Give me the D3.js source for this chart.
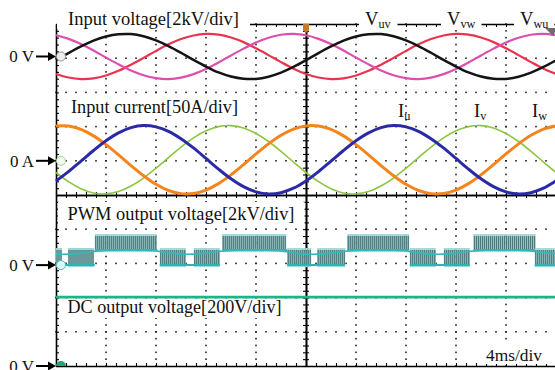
<!DOCTYPE html>
<html>
<head>
<meta charset="utf-8">
<script src="https://cdn.jsdelivr.net/npm/d3@7"></script>
<style>
  body { margin: 0; background: #fff; }
  svg { display: block; font-family: "Liberation Serif", "Times New Roman", serif; }
</style>
</head>
<body>
<svg id="chart" width="555" height="370"></svg>
<script>
// sample instants, 1 ms apart (4 ms/div, 10 divisions)
const tMs = d3.range(0, 41);

// input line voltages [kV]
const vUV = [-0.22, 0.20, 0.59, 0.93, 1.17, 1.30, 1.31, 1.18, 0.94, 0.61, 0.22, -0.20, -0.59, -0.93, -1.17, -1.30, -1.31, -1.18, -0.94, -0.61,
             -0.22, 0.20, 0.59, 0.93, 1.17, 1.30, 1.31, 1.18, 0.94, 0.61, 0.22, -0.20, -0.59, -0.93, -1.17, -1.30, -1.31, -1.18, -0.94, -0.61, -0.22];
const vVW = [-1.02, -1.23, -1.32, -1.28, -1.11, -0.84, -0.48, -0.08, 0.33, 0.71, 1.02, 1.23, 1.32, 1.28, 1.11, 0.84, 0.48, 0.08, -0.33, -0.71,
             -1.02, -1.23, -1.32, -1.28, -1.11, -0.84, -0.48, -0.08, 0.33, 0.71, 1.02, 1.23, 1.32, 1.28, 1.11, 0.84, 0.48, 0.08, -0.33, -0.71, -1.02];
const vWU = [1.24, 1.03, 0.73, 0.35, -0.06, -0.46, -0.82, -1.10, -1.27, -1.32, -1.24, -1.03, -0.73, -0.35, 0.06, 0.46, 0.82, 1.10, 1.27, 1.32,
             1.24, 1.03, 0.73, 0.35, -0.06, -0.46, -0.82, -1.10, -1.27, -1.32, -1.24, -1.03, -0.73, -0.35, 0.06, 0.46, 0.82, 1.10, 1.27, 1.32, 1.24];

// input currents [A]
const iU = [-29.4, -15.8, -0.4, 15.1, 29.3, 40.8, 48.5, 51.5, 49.6, 43.1, 32.4, 18.8, 3.4, -12.1, -26.3, -37.8, -45.5, -48.5, -46.6, -40.1,
            -29.4, -15.8, -0.4, 15.1, 29.3, 40.8, 48.5, 51.5, 49.6, 43.1, 32.4, 18.8, 3.4, -12.1, -26.3, -37.8, -45.5, -48.5, -46.6, -40.1, -29.4];
const iV = [-17.1, -30.5, -40.8, -47.0, -48.4, -45.0, -36.9, -25.2, -10.8, 4.8, 20.1, 33.5, 43.8, 50.0, 51.4, 48.0, 39.9, 28.2, 13.8, -1.8,
            -17.1, -30.5, -40.8, -47.0, -48.4, -45.0, -36.9, -25.2, -10.8, 4.8, 20.1, 33.5, 43.8, 50.0, 51.4, 48.0, 39.9, 28.2, 13.8, -1.8, -17.1];
const iW = [51.0, 50.8, 45.8, 36.4, 23.6, 8.7, -7.0, -21.8, -34.4, -43.4, -48.0, -47.8, -42.8, -33.4, -20.6, -5.7, 10.0, 24.8, 37.4, 46.4,
            51.0, 50.8, 45.8, 36.4, 23.6, 8.7, -7.0, -21.8, -34.4, -43.4, -48.0, -47.8, -42.8, -33.4, -20.6, -5.7, 10.0, 24.8, 37.4, 46.4, 51.0];

// PWM output voltage [kV]: switching segments and the averaged trace
const pwmStart = [0, 3.1, 8.3, 13.3, 18.5, 23.3, 28.3, 33.4, 38.3];
const pwmEnd   = [3.1, 8.1, 13.1, 18.5, 23.1, 28.2, 33.1, 38.3, 40];
const pwmLow   = [0, 0.88, 0, 0.88, 0, 0.88, 0, 0.88, 0];
const pwmHigh  = [0.88, 1.70, 0.88, 1.70, 0.88, 1.70, 0.88, 1.70, 0.88];
const pwmNotch = [0.7, 10.7, 20.7, 30.7];
const pwmMean  = [0.64, 0.64, 0.70, 0.80, 0.86, 0.88, 0.88, 0.87, 0.83, 0.73,
                  0.64, 0.64, 0.70, 0.80, 0.86, 0.88, 0.88, 0.87, 0.83, 0.73,
                  0.64, 0.64, 0.70, 0.80, 0.86, 0.88, 0.88, 0.87, 0.83, 0.73,
                  0.64, 0.64, 0.70, 0.80, 0.86, 0.88, 0.88, 0.87, 0.83, 0.73, 0.64];

// DC output voltage [V]
const vDC = [403, 403, 403, 403, 403, 403, 403, 403, 403, 403, 403, 403, 403, 403, 403, 403, 403, 403, 403, 403,
             403, 403, 403, 403, 403, 403, 403, 403, 403, 403, 403, 403, 403, 403, 403, 403, 403, 403, 403, 403, 403];

const svg = d3.select('#chart');
const x = d3.scaleLinear().domain([0, 40]).range([56, 556]);
const y = d3.scaleLinear().domain([-5, 5]).range([366, 24]);

// channel position (div) and scale (units/div)
const chV = { offset: 4.05, perDiv: 2 };
const chI = { offset: 1.0, perDiv: 50 };
const chP = { offset: -2.05, perDiv: 2 };
const chD = { offset: -5, perDiv: 200 };
const yc = (ch, v) => y(ch.offset + v / ch.perDiv);

// graticule dots
const grid = svg.append('g').attr('fill', '#222');
[-4, -3, -2, -1, 1, 2, 3, 4].forEach(d => {
  grid.selectAll(null).data(d3.range(0, 40.01, 0.8)).enter().append('rect')
    .attr('x', t => x(t) - 0.8).attr('y', y(d) - 0.8).attr('width', 1.6).attr('height', 1.6);
});
[4, 8, 12, 16, 24, 28, 32, 36].forEach(t => {
  grid.selectAll(null).data(d3.range(-5, 5.01, 0.2)).enter().append('rect')
    .attr('x', x(t) - 0.8).attr('y', d => y(d) - 0.8).attr('width', 1.6).attr('height', 1.6);
});

// borders and centre axes with minor ticks
const minorT = d3.range(0, 40.01, 0.8);
const minorD = d3.range(-5, 5.01, 0.2);
function axis(gen, tx, ty) {
  const g = svg.append('g').attr('transform', `translate(${tx},${ty})`)
    .call(gen.tickSizeInner(3).tickSizeOuter(0).tickFormat(''));
  g.select('.domain').attr('stroke', '#000').attr('stroke-width', 1.6);
  g.selectAll('.tick line').attr('stroke', '#000').attr('stroke-width', 1.1);
}
axis(d3.axisRight(y).tickValues(minorD), 56, 0);
axis(d3.axisRight(y).tickValues(minorD), 306, 0);
axis(d3.axisLeft(y).tickValues(minorD), 306, 0);
axis(d3.axisTop(x).tickValues(minorT), 0, 195);
axis(d3.axisBottom(x).tickValues(minorT), 0, 195);
axis(d3.axisBottom(x).tickValues(minorT), 0, 24);
axis(d3.axisTop(x).tickValues(minorT), 0, 366);

// text labels on white boxes
function label(parts, tx, ty, size, box, len) {
  const g = svg.append('g');
  const rect = g.append('rect').attr('fill', '#fff');
  const txt = g.append('text').attr('x', tx).attr('y', ty).attr('font-size', size).attr('fill', '#111');
  if (len) txt.attr('textLength', len).attr('lengthAdjust', 'spacingAndGlyphs');
  parts.forEach(p => {
    const s = txt.append('tspan').text(p.t);
    if (p.sub) s.attr('font-size', size * 0.66).attr('dy', 3);
  });
  if (box) {
    const b = txt.node().getBBox();
    const x0 = box.x0 !== undefined ? box.x0 : b.x - (box.px || 4);
    const x1 = box.x1 !== undefined ? box.x1 : b.x + b.width + (box.px || 4);
    rect.attr('x', x0).attr('y', box.y0).attr('width', x1 - x0).attr('height', box.y1 - box.y0);
  }
}
label([{ t: 'Input voltage[2kV/div]' }], 68, 25, 18.5, { x0: 57, x1: 250, y0: 2, y1: 29 }, 171);
label([{ t: 'Input current[50A/div]' }], 71, 113, 18.5, { px: 4, y0: 97, y1: 119 }, 167);
label([{ t: 'PWM output voltage[2kV/div]' }], 67.5, 220, 18.5, { x0: 58, px: 10, y0: 202, y1: 226 }, 227);
label([{ t: 'DC output voltage[200V/div]' }], 67.5, 313, 18.5, { px: 6, y0: 299, y1: 318 }, 214);
label([{ t: '4ms/div' }], 486, 361, 17.5, { px: 6, y0: 344, y1: 364 }, 56);
label([{ t: 'V' }, { t: 'uv', sub: true }], 365, 25, 18.5, { px: 6, y0: 2, y1: 29 });
label([{ t: 'V' }, { t: 'vw', sub: true }], 447, 25, 18.5, { px: 6, y0: 2, y1: 29 });
label([{ t: 'V' }, { t: 'wu', sub: true }], 520, 25, 18.5, { px: 6, y0: 2, y1: 29 });
label([{ t: 'I' }, { t: 'u', sub: true }], 398, 117, 18.5, null);
label([{ t: 'I' }, { t: 'v', sub: true }], 474, 117, 18.5, null);
label([{ t: 'I' }, { t: 'w', sub: true }], 532, 117, 18.5, null);

// zero level arrows
[[chV, '0 V'], [chI, '0 A'], [chP, '0 V'], [chD, '0 V']].forEach(([ch, t]) => {
  const yy = yc(ch, 0);
  svg.append('text').attr('x', 34).attr('y', yy + 6).attr('text-anchor', 'end')
    .attr('font-size', 17).attr('fill', '#111').text(t);
  svg.append('line').attr('x1', 36).attr('x2', 50).attr('y1', yy).attr('y2', yy)
    .attr('stroke', '#000').attr('stroke-width', 2);
  svg.append('path').attr('d', `M48,${yy - 4.5}L56,${yy}L48,${yy + 4.5}Z`).attr('fill', '#000');
});

// PWM switching bands
const pwm = svg.append('g');
pwmStart.forEach((s, i) => {
  const e = pwmEnd[i], lo = pwmLow[i], hi = pwmHigh[i];
  const pulses = d3.range(s + 0.08, e, 0.16).filter(t => !pwmNotch.some(n => Math.abs(n - t) < 0.25));
  pwm.selectAll(null).data(pulses).enter().append('rect')
    .attr('x', t => x(t - 0.08)).attr('width', x(0.16) - x(0))
    .attr('y', yc(chP, hi + 0.12)).attr('height', yc(chP, lo - 0.12) - yc(chP, hi + 0.12))
    .attr('fill', '#9bd6d6');
  pwm.selectAll(null).data(pulses).enter().append('line')
    .attr('x1', t => x(t)).attr('x2', t => x(t))
    .attr('y1', yc(chP, hi)).attr('y2', yc(chP, lo))
    .attr('stroke', '#4e7778').attr('stroke-width', 1.3);
  pwm.append('line').attr('x1', x(s)).attr('x2', x(e)).attr('y1', yc(chP, lo)).attr('y2', yc(chP, lo))
    .attr('stroke', '#2cb4b4').attr('stroke-width', 2);
});

// traces
const line = ch => d3.line().x((d, i) => x(tMs[i])).y(d => yc(ch, d)).curve(d3.curveCatmullRom);
const traces = [
  [pwmMean, chP, '#33b9b9', 1.6],
  [vDC, chD, '#1db488', 2.6],
  [vVW, chV, '#e8344f', 2.2],
  [vWU, chV, '#dc4fae', 2.2],
  [vUV, chV, '#141414', 2.5],
  [iV, chI, '#8cc63f', 1.6],
  [iW, chI, '#f3851c', 3],
  [iU, chI, '#2b2aa6', 3]
];
traces.forEach(([data, ch, color, w]) => {
  svg.append('path').datum(data).attr('d', line(ch))
    .attr('fill', 'none').attr('stroke', color).attr('stroke-width', w).attr('stroke-linejoin', 'round');
});

// channel markers
svg.append('circle').attr('cx', 61).attr('cy', yc(chV, 0)).attr('r', 4.5).attr('fill', '#eee').attr('stroke', '#999');
svg.append('circle').attr('cx', 61).attr('cy', yc(chI, 0)).attr('r', 4.5).attr('fill', '#f3fbef').attr('stroke', '#a5d49a');
svg.append('circle').attr('cx', 61).attr('cy', yc(chP, 0)).attr('r', 4.5).attr('fill', '#e2f7f7').attr('stroke', '#53c0c0');
svg.append('path').attr('d', `M56,366a5,5 0 0 1 10,0Z`).attr('fill', '#1aa877');

// trigger markers
svg.append('path').attr('d', 'M303,24L309,24L309,30L306,33L303,30Z').attr('fill', '#c47a28');
svg.append('path').attr('d', 'M545,28L557,28L553,36Z').attr('fill', '#6d6d6d');
</script>
</body>
</html>
